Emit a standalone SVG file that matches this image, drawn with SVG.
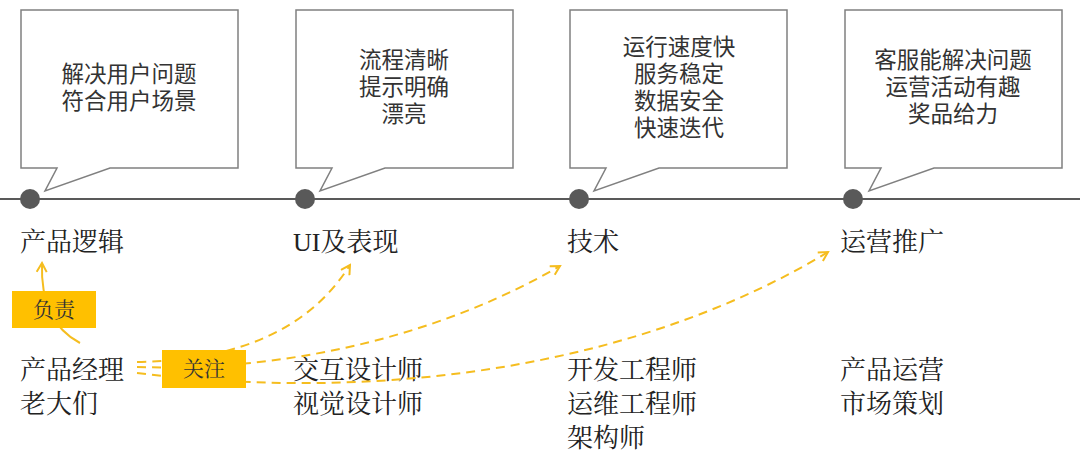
<svg xmlns="http://www.w3.org/2000/svg" width="1080" height="459" viewBox="0 0 1080 459">
<style>
.bubble{fill:#fff;stroke:#808080;stroke-width:1.5;stroke-linejoin:miter}
.dot{fill:#595959}
.btxt{font-family:"Liberation Sans","Noto Sans CJK SC",sans-serif;font-size:22.5px;fill:#333;text-anchor:middle}
.lbl{font-family:"Liberation Serif","Noto Serif CJK SC","Noto Sans CJK SC",serif;font-size:26px;fill:#222}
.tag{fill:#FFC000}
.tagtxt{font-family:"Liberation Serif","Noto Serif CJK SC","Noto Sans CJK SC",serif;font-size:21px;fill:#333;text-anchor:middle}
.conn{fill:none;stroke:#F5BD1F;stroke-width:2}
.dash{stroke-dasharray:9 6}
</style>
<defs>
<marker id="arr" viewBox="0 0 12 12" refX="10" refY="6" markerWidth="12" markerHeight="12" markerUnits="userSpaceOnUse" orient="auto">
<path d="M1,1 L10,6 L1,11" fill="none" stroke="#F5BD1F" stroke-width="2"/>
</marker>
</defs>
<rect width="1080" height="459" fill="#fff"/>
<line x1="0" y1="199" x2="1080" y2="199" stroke="#595959" stroke-width="2"/>

<g id="callout1">
<path class="bubble" d="M21,10 H238 V168 H110 L45,191 L57,168 H21 Z"/>
<text class="btxt" x="129" y="82">解决用户问题</text>
<text class="btxt" x="129" y="109">符合用户场景</text>
</g>
<g id="callout2">
<path class="bubble" d="M296,10 H513 V168 H385 L320,191 L332,168 H296 Z"/>
<text class="btxt" x="404" y="68">流程清晰</text>
<text class="btxt" x="404" y="95">提示明确</text>
<text class="btxt" x="404" y="122">漂亮</text>
</g>
<g id="callout3">
<path class="bubble" d="M570,10 H787 V168 H659 L594,191 L606,168 H570 Z"/>
<text class="btxt" x="679" y="55">运行速度快</text>
<text class="btxt" x="679" y="82">服务稳定</text>
<text class="btxt" x="679" y="109">数据安全</text>
<text class="btxt" x="679" y="136">快速迭代</text>
</g>
<g id="callout4">
<path class="bubble" d="M845,10 H1062 V168 H934 L869,191 L881,168 H845 Z"/>
<text class="btxt" x="953" y="68">客服能解决问题</text>
<text class="btxt" x="953" y="95">运营活动有趣</text>
<text class="btxt" x="953" y="122">奖品给力</text>
</g>

<g id="dots">
<circle class="dot" cx="30" cy="199" r="10"/>
<circle class="dot" cx="305" cy="199" r="10"/>
<circle class="dot" cx="579" cy="199" r="10"/>
<circle class="dot" cx="853" cy="199" r="10"/>
</g>

<g id="stage1"><text class="lbl" x="20" y="251">产品逻辑</text></g>
<g id="stage2"><text class="lbl" x="293" y="251">UI及表现</text></g>
<g id="stage3"><text class="lbl" x="567" y="251">技术</text></g>
<g id="stage4"><text class="lbl" x="840" y="251">运营推广</text></g>

<g id="roles1"><text class="lbl" x="20" y="379">产品经理</text><text class="lbl" x="20" y="413">老大们</text></g>
<g id="roles2"><text class="lbl" x="293" y="379">交互设计师</text><text class="lbl" x="293" y="413">视觉设计师</text></g>
<g id="roles3"><text class="lbl" x="567" y="379">开发工程师</text><text class="lbl" x="567" y="413">运维工程师</text><text class="lbl" x="567" y="447">架构师</text></g>
<g id="roles4"><text class="lbl" x="840" y="379">产品运营</text><text class="lbl" x="840" y="413">市场策划</text></g>

<g id="connectors">
<path class="conn" d="M80,343 Q40,322 42,263" marker-end="url(#arr)"/>
<path class="conn dash" d="M137,362 Q290,360 350,265" marker-end="url(#arr)"/>
<path class="conn dash" d="M137,367 C300,372 450,330 560,266" marker-end="url(#arr)"/>
<path class="conn dash" d="M137,373 C400,405 650,360 828,252" marker-end="url(#arr)"/>
</g>

<g id="tag-fuze">
<rect class="tag" x="12" y="291" width="84" height="37"/>
<text class="tagtxt" x="54" y="317">负责</text>
</g>
<g id="tag-guanzhu">
<rect class="tag" x="162" y="350" width="84" height="38"/>
<text class="tagtxt" x="204" y="376">关注</text>
</g>
</svg>
